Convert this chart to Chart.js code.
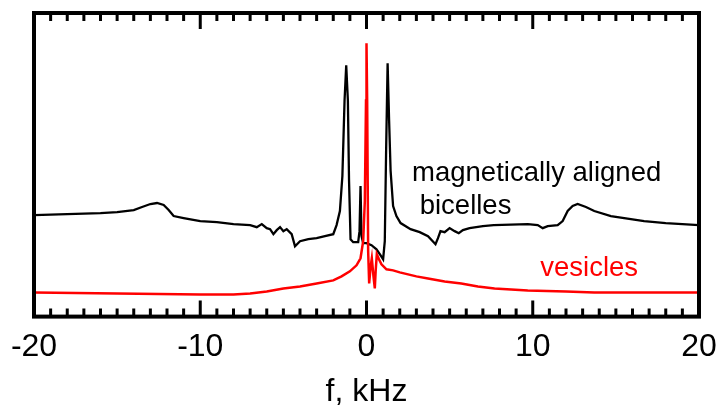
<!DOCTYPE html>
<html lang="en">
<head>
    <meta charset="UTF-8">
    <title>NMR spectra</title>
    <style>
        html, body { margin: 0; padding: 0; background: #fff; }
        #wrap { width: 719px; height: 405px; }
    </style>
</head>
<body>
    <div id="wrap"><canvas id="spec" width="719" height="405"></canvas></div>

    <script src="https://cdn.jsdelivr.net/npm/chart.js@4"></script>
    <script>
        // frequency (kHz) and intensity (arb. units)
        const bicelleFreq = [-20, -18, -16, -15, -14, -13.5, -13, -12.6, -12.2, -11.9, -11.6, -11, -10, -9, -8, -7,
            -6.6, -6.3, -6.0, -5.8, -5.6, -5.4, -5.2, -5.0, -4.8, -4.5, -4.3, -4.0, -3.5, -3.0, -2.5, -2.0,
            -1.8, -1.6, -1.45, -1.32, -1.22, -1.12, -1.05, -0.96, -0.8, -0.5, -0.42, -0.36, -0.3, -0.2, 0,
            0.3, 0.6, 0.85, 1.0, 1.1, 1.18, 1.27, 1.36, 1.45, 1.6, 1.8, 2.05, 2.65, 3.2, 3.7, 4.15, 4.3,
            4.45, 4.7, 5.0, 5.3, 5.55, 5.8, 6.2, 7, 7.65, 9.7, 10.3, 10.6, 10.9, 11.5, 11.8, 12.1, 12.4,
            12.7, 13.2, 13.7, 14.7, 16.7, 18, 20];
        const bicelleInt = [101, 102, 103, 104, 106, 109, 112, 113, 111, 106, 100, 98, 95, 94, 92, 91,
            89, 92, 88, 87, 82, 86, 89, 85, 87, 82, 70, 75, 77, 78, 80, 82,
            91, 105, 140, 215, 250, 215, 135, 77, 74, 74, 85, 130, 80, 73, 73,
            71, 67, 61, 57, 75, 165, 252, 195, 145, 110, 100, 93, 87, 84, 80, 72, 78,
            85, 84, 88, 85, 83, 86, 88, 90, 91, 92, 91, 88, 90, 91, 95, 105, 110,
            112, 109, 105, 100, 95, 93, 91];

        const vesicleFreq = [-20, -15, -10, -8, -7, -6, -5, -4, -3, -2, -1.5, -1, -0.6, -0.36, -0.2, -0.1,
            -0.03, 0, 0.04, 0.1, 0.16, 0.25, 0.32, 0.42, 0.5, 0.55, 0.62, 0.75, 0.9, 1.2, 1.6, 2.0,
            3.0, 3.7, 4.7, 5.7, 6.7, 7.7, 9.7, 12, 13.7, 16, 20];
        const vesicleInt = [24, 23, 22, 22, 23, 25, 28, 30, 33, 36, 40, 45, 51, 58, 75, 115,
            215, 272, 215, 65, 33, 50, 58, 40, 28, 45, 62, 57, 52, 47, 46, 44,
            40, 38, 35, 33, 30, 28, 26, 25, 24, 24, 24];

        const xTicks = [-20, -10, 0, 10, 20];

        const toPoints = (xs, ys) => xs.map((x, i) => ({ x: x, y: ys[i] }));

        // box frame with inward ticks every 1 kHz, plus the text labels
        const framePlugin = {
            id: 'frame',
            afterDraw(chart) {
                const ctx = chart.ctx;
                const a = chart.chartArea;
                const xs = chart.scales.x;
                const ys = chart.scales.y;
                ctx.save();
                ctx.strokeStyle = '#000';
                ctx.lineWidth = 3;
                for (let f = -19; f <= 19; f++) {
                    const px = xs.getPixelForValue(f);
                    const len = (f % 10 === 0) ? 16 : 8;
                    ctx.beginPath();
                    ctx.moveTo(px, a.bottom);
                    ctx.lineTo(px, a.bottom - len);
                    ctx.moveTo(px, a.top);
                    ctx.lineTo(px, a.top + len);
                    ctx.stroke();
                }
                ctx.lineWidth = 4;
                ctx.strokeRect(a.left, a.top, a.right - a.left, a.bottom - a.top);

                ctx.font = '27.5px "Liberation Sans", Arial, sans-serif';
                ctx.textBaseline = 'alphabetic';
                ctx.textAlign = 'left';
                ctx.fillStyle = '#000';
                ctx.fillText('magnetically aligned', xs.getPixelForValue(2.74), ys.getPixelForValue(135));
                ctx.fillText('bicelles', xs.getPixelForValue(3.2), ys.getPixelForValue(102));
                ctx.fillStyle = '#ff0000';
                ctx.fillText('vesicles', xs.getPixelForValue(10.45), ys.getPixelForValue(40));
                ctx.restore();
            }
        };

        new Chart(document.getElementById('spec'), {
            type: 'scatter',
            data: {
                datasets: [{
                    label: 'vesicles',
                    data: toPoints(vesicleFreq, vesicleInt),
                    showLine: true,
                    borderColor: '#ff0000',
                    borderWidth: 2.5,
                    pointRadius: 0,
                    tension: 0
                }, {
                    label: 'magnetically aligned bicelles',
                    data: toPoints(bicelleFreq, bicelleInt),
                    showLine: true,
                    borderColor: '#000',
                    borderWidth: 2.3,
                    pointRadius: 0,
                    tension: 0
                }]
            },
            options: {
                responsive: false,
                animation: false,
                layout: { padding: { left: 34, right: 20, top: 13, bottom: 0 } },
                plugins: { legend: { display: false }, tooltip: { enabled: false } },
                scales: {
                    x: {
                        type: 'linear',
                        min: -20,
                        max: 20,
                        afterBuildTicks: (scale) => { scale.ticks = xTicks.map(v => ({ value: v })); },
                        afterFit: (scale) => { scale.paddingLeft = 0; scale.paddingRight = 0; },
                        grid: { display: false, drawTicks: false },
                        border: { display: false },
                        ticks: {
                            padding: 11,
                            color: '#000',
                            font: { family: '"Liberation Sans", Arial, sans-serif', size: 32 }
                        },
                        title: {
                            display: true,
                            text: 'f, kHz',
                            color: '#000',
                            padding: { top: 3, bottom: 1 },
                            font: { family: '"Liberation Sans", Arial, sans-serif', size: 32, lineHeight: 0.75 }
                        }
                    },
                    y: {
                        display: false,
                        min: 0,
                        max: 302
                    }
                }
            },
            plugins: [framePlugin]
        });
    </script>
</body>
</html>
